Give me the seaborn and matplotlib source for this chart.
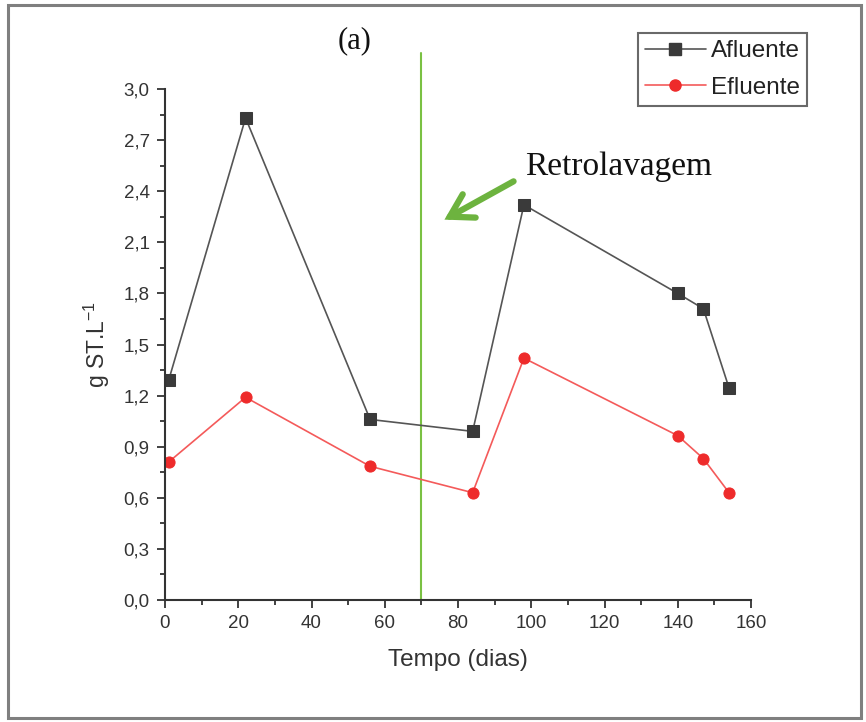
import matplotlib
matplotlib.use("Agg")
import matplotlib.pyplot as plt
import seaborn as sns
import pandas as pd
from matplotlib.patches import Rectangle, FancyArrowPatch
from matplotlib.ticker import MultipleLocator, FuncFormatter
from matplotlib.lines import Line2D

days = [1, 22, 56, 84, 98, 140, 147, 154]
afluente = [1.29, 2.83, 1.06, 0.99, 2.32, 1.80, 1.71, 1.245]
efluente = [0.81, 1.19, 0.785, 0.63, 1.42, 0.965, 0.83, 0.63]
series_names = ["Afluente", "Efluente"]
x_ticks = [0, 20, 40, 60, 80, 100, 120, 140, 160]
y_ticks = [0.0, 0.3, 0.6, 0.9, 1.2, 1.5, 1.8, 2.1, 2.4, 2.7, 3.0]
backwash_day = 70

df = pd.DataFrame({
    "Tempo": days * 2,
    "valor": afluente + efluente,
    "serie": [series_names[0]] * len(days) + [series_names[1]] * len(days),
})

sns.set_theme(style="ticks")
plt.rcParams["font.family"] = ["Liberation Sans", "DejaVu Sans"]

fig = plt.figure(figsize=(8.66, 7.22), dpi=100)
ax = fig.add_axes([165/866, 1 - 600/722, (751 - 165)/866, (600 - 89)/722])

palette = {"Afluente": "#555555", "Efluente": "#F45A5A"}
sns.lineplot(data=df, x="Tempo", y="valor", hue="serie", style="serie",
             palette=palette, markers={"Afluente": "s", "Efluente": "o"},
             dashes=False, linewidth=1.2, markersize=8, ax=ax, legend=False)
for line, mc in zip(ax.get_lines(), ["#3A3A3A", "#EE2B2B"]):
    line.set_markerfacecolor(mc)
    line.set_markeredgecolor(mc)

ax.set_xlim(0, 160)
ax.set_ylim(0, 3.0)
ax.set_xticks(x_ticks)
ax.set_yticks(y_ticks)
ax.xaxis.set_minor_locator(MultipleLocator(10))
ax.yaxis.set_minor_locator(MultipleLocator(0.15))
ax.yaxis.set_major_formatter(FuncFormatter(lambda v, p: f"{v:.1f}".replace(".", ",")))
ax.tick_params(which="major", direction="out", length=6, width=1.3, color="#333333",
               labelsize=13.5, labelcolor="#333333", pad=5)
ax.tick_params(which="minor", direction="out", length=3.5, width=1.3, color="#333333")
for s in ["top", "right"]:
    ax.spines[s].set_visible(False)
for s in ["left", "bottom"]:
    ax.spines[s].set_linewidth(1.5)
    ax.spines[s].set_color("#333333")

ax.set_xlabel("Tempo (dias)", fontsize=17.5, color="#333333", labelpad=12)
ax.set_ylabel("g ST.L$^{\\mathregular{-1}}$", fontsize=16.5, color="#333333", labelpad=8)

ax.plot([backwash_day, backwash_day], [0, 3.21], color="#7AC143", lw=1.5, clip_on=False, zorder=1)

arr = FancyArrowPatch((516/866, 1 - 180/722), (442/866, 1 - 221/722),
                      transform=fig.transFigure, arrowstyle="->,head_length=10,head_width=6",
                      color="#6DB33F", lw=4.5, mutation_scale=1.6, capstyle="round",
                      joinstyle="miter")
fig.patches.append(arr)
fig.text(525/866, 1 - 167/722, "Retrolavagem", fontsize=24, family="Liberation Serif",
         color="#111111", va="center", ha="left")
fig.text(355/866, 1 - 41/722, "(a)", fontsize=22, family="Liberation Serif",
         color="#111111", va="center", ha="center")

handles = [Line2D([], [], color="#555555", lw=1.2, marker="s", markersize=8,
                  markerfacecolor="#3A3A3A", markeredgecolor="#3A3A3A"),
           Line2D([], [], color="#F45A5A", lw=1.2, marker="o", markersize=8,
                  markerfacecolor="#EE2B2B", markeredgecolor="#EE2B2B")]
leg = fig.legend(handles, series_names, loc="upper right",
                 bbox_to_anchor=(807/866, 1 - 33/722), fontsize=17.5,
                 frameon=True, fancybox=False, edgecolor="#444444",
                 handlelength=2.5, handletextpad=0.2, borderpad=0.3,
                 labelspacing=0.6, borderaxespad=0)
leg.get_frame().set_linewidth(1.5)
for t in leg.get_texts():
    t.set_color("#222222")

fig.patches.append(Rectangle((8/866, 4/722), (861 - 8)/866, (717 - 4)/722,
                             transform=fig.transFigure, fill=False,
                             edgecolor="#7F7F7F", lw=2.2))

fig.savefig("out.png", dpi=100)
